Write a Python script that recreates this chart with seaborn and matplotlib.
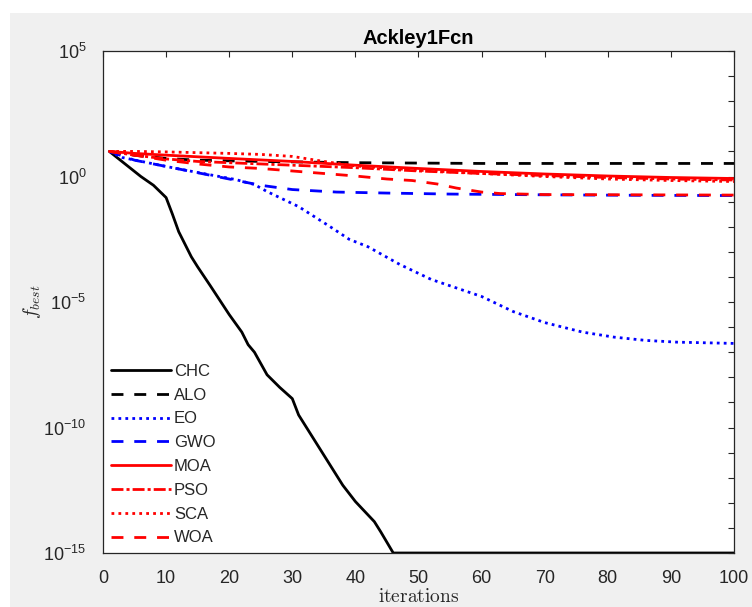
import numpy as np
import pandas as pd
import matplotlib
matplotlib.use("Agg")
import matplotlib.pyplot as plt
from matplotlib.patches import Rectangle
from matplotlib.ticker import FixedLocator, FuncFormatter, NullFormatter
import seaborn as sns

sns.set_style("white")
plt.rcParams["font.family"] = ["Liberation Sans", "DejaVu Sans"]
plt.rcParams["mathtext.fontset"] = "cm"

# ---- data (log10 of f_best) ----
chc_it = [1, 3, 6, 8, 10, 11, 12, 14, 15, 17, 20, 22, 23, 24, 26, 28, 30, 31, 34, 38, 40, 43, 44, 46, 100]
chc_lg = [1.0, 0.6, 0.0, -0.35, -0.84, -1.5, -2.2, -3.2, -3.6, -4.35, -5.5, -6.2, -6.7, -7.0, -7.9,
          -8.4, -8.85, -9.5, -10.7, -12.3, -12.95, -13.75, -14.15, -15.0, -15.0]

alo_it = [1, 5, 10, 15, 25, 40, 60, 100]
alo_lg = [1.0, 0.85, 0.72, 0.65, 0.6, 0.55, 0.52, 0.52]

eo_it = [1, 3, 10, 15, 21, 24, 26, 31, 36, 39, 42, 47, 52, 60, 65, 70, 76, 81, 86, 91, 100]
eo_lg = [1.0, 0.76, 0.4, 0.16, -0.12, -0.32, -0.6, -1.2, -2.0, -2.5, -2.8, -3.5, -4.1, -4.78,
         -5.38, -5.82, -6.2, -6.4, -6.53, -6.6, -6.65]

gwo_it = [1, 5, 10, 15, 20, 25, 30, 37, 45, 55, 70, 85, 100]
gwo_lg = [1.0, 0.65, 0.4, 0.15, -0.1, -0.35, -0.52, -0.62, -0.66, -0.7, -0.73, -0.75, -0.76]

moa_it = [1, 5, 10, 20, 30, 40, 50, 60, 70, 80, 90, 100]
moa_lg = [1.0, 0.92, 0.85, 0.72, 0.6, 0.45, 0.32, 0.2, 0.1, 0.02, -0.04, -0.08]

pso_it = [1, 5, 10, 15, 20, 30, 40, 50, 60, 70, 80, 90, 100]
pso_lg = [1.0, 0.85, 0.7, 0.6, 0.55, 0.45, 0.35, 0.22, 0.12, 0.04, -0.04, -0.1, -0.14]

sca_it = [1, 5, 10, 15, 20, 25, 30, 35, 40, 50, 60, 70, 80, 90, 100]
sca_lg = [1.0, 1.0, 0.98, 0.95, 0.92, 0.88, 0.8, 0.6, 0.42, 0.25, 0.12, 0.0, -0.1, -0.16, -0.2]

woa_it = [1, 5, 10, 15, 20, 25, 30, 35, 40, 45, 49, 53, 56, 60, 63, 70, 100]
woa_lg = [1.0, 0.85, 0.65, 0.5, 0.38, 0.32, 0.22, 0.12, 0.02, -0.1, -0.16, -0.3, -0.46, -0.62,
          -0.68, -0.72, -0.74]

names = ["CHC", "ALO", "EO", "GWO", "MOA", "PSO", "SCA", "WOA"]
series = [(chc_it, chc_lg), (alo_it, alo_lg), (eo_it, eo_lg), (gwo_it, gwo_lg),
          (moa_it, moa_lg), (pso_it, pso_lg), (sca_it, sca_lg), (woa_it, woa_lg)]
colors = ["black", "black", "blue", "blue", "red", "red", "red", "red"]
styles = ["-", (0, (4.3, 3.9)), (0, (1.0, 1.5)), (0, (4.3, 3.9)),
          "-", (0, (4.3, 1.1, 1.1, 1.1)), (0, (1.0, 1.5)), (0, (4.3, 3.9))]
x_ticks = list(range(0, 101, 10))
y_major = [1e-15, 1e-10, 1e-5, 1e0, 1e5]

# ---- figure ----
W, H = 752, 607
fig = plt.figure(figsize=(W / 100, H / 100), dpi=100, facecolor="#f0f0f0")
fig.patches.append(Rectangle((0, 1 - 13 / H), 1, 13 / H, transform=fig.transFigure,
                             facecolor="white", edgecolor="none", zorder=0))
fig.patches.append(Rectangle((0, 0), 10 / W, 1, transform=fig.transFigure,
                             facecolor="white", edgecolor="none", zorder=0))

ax = fig.add_axes([103 / W, (H - 553) / H, (734 - 103) / W, (553 - 51) / H])
ax.set_facecolor("white")
ax.set_yscale("log")

for name, (it, lg), c, ls in zip(names, series, colors, styles):
    df = pd.DataFrame({"iteration": it, "fbest": np.power(10.0, lg)})
    sns.lineplot(data=df, x="iteration", y="fbest", color=c, linestyle=ls, linewidth=2.0,
                 label=name, ax=ax, estimator=None, sort=False)
for ln in ax.get_lines():
    ln.set_dash_capstyle("butt")

ax.set_xlim(0, 100)
ax.set_ylim(1e-15, 1e5)
ax.set_xticks(x_ticks)
ax.yaxis.set_major_locator(FixedLocator(y_major))
ax.yaxis.set_minor_locator(FixedLocator([10.0 ** k for k in range(-15, 6)]))
ax.yaxis.set_minor_formatter(NullFormatter())
ax.yaxis.set_major_formatter(FuncFormatter(
    lambda v, p: r"$\mathregular{10^{%d}}$" % round(np.log10(v))))

tc = "#262626"
ax.tick_params(axis="both", which="both", direction="in", top=True, right=True,
               length=4, width=0.8, color=tc, labelcolor=tc, labelsize=13)
ax.tick_params(axis="x", pad=12)
ax.tick_params(axis="y", pad=12)
for s in ax.spines.values():
    s.set_visible(True)
    s.set_color(tc)
    s.set_linewidth(0.9)

ax.set_title("Ackley1Fcn", fontsize=14.5, fontweight="bold", color="black", pad=5)
ax.set_xlabel(r"$\mathrm{iterations}$", fontsize=14, color=tc, labelpad=1)
ax.set_ylabel(r"$f_{best}$", fontsize=14, color=tc, labelpad=0)

leg = ax.legend(loc="lower left", bbox_to_anchor=(0.0, 0.0), frameon=False, fontsize=12,
                handlelength=3.6, handletextpad=0.2, labelspacing=0.53, borderaxespad=0.15,
                borderpad=0.3)
for t in leg.get_texts():
    t.set_color(tc)

fig.savefig("out.png", dpi=100, facecolor=fig.get_facecolor())
